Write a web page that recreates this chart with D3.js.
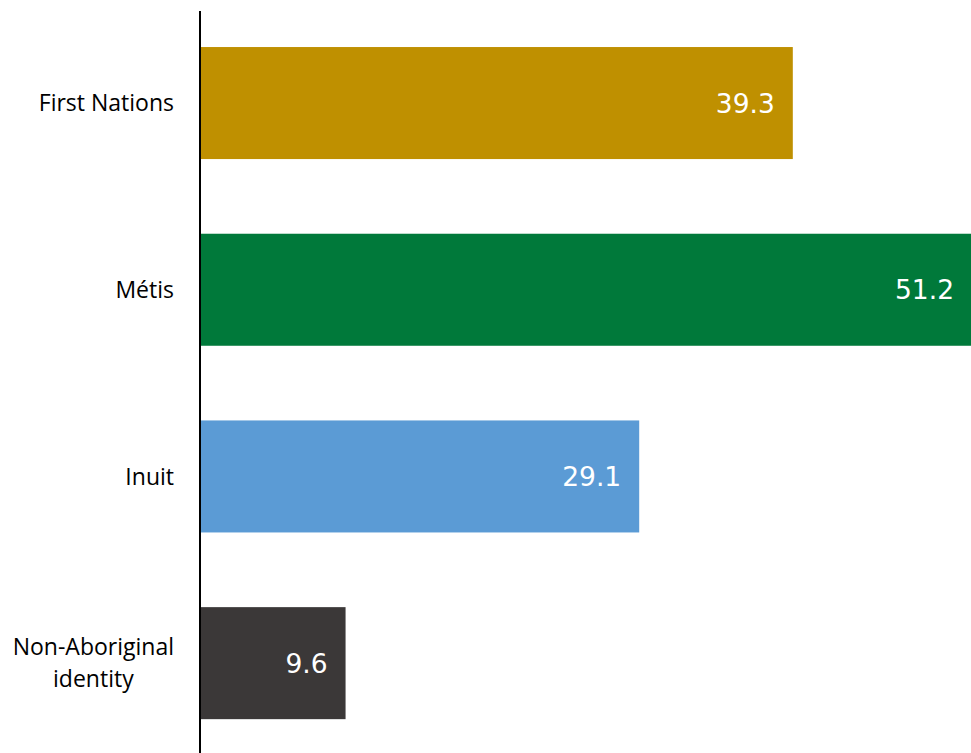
<!DOCTYPE html>
<html>
<head>
<meta charset="utf-8">
<script src="https://cdn.jsdelivr.net/npm/d3@7"></script>
<style>
  html, body { margin: 0; padding: 0; background: #fff; overflow: hidden; }
  svg { display: block; }
</style>
</head>
<body>
<svg id="chart" width="971" height="753"></svg>
<script>
// Identity groups, their values and bar colours
const categories = ["First Nations", "Métis", "Inuit", "Non-Aboriginal identity"];
const categoryLines = [["First Nations"], ["Métis"], ["Inuit"], ["Non-Aboriginal", "identity"]];
const values = [39.3, 51.2, 29.1, 9.6];
const colors = ["#BF9000", "#00793A", "#5B9BD5", "#3B3838"];

const W = 971, H = 753;
const axisX = 200;
const svg = d3.select("#chart");

const x = d3.scaleLinear().domain([0, 51.2]).range([axisX + 1, 972]);
const y = d3.scaleBand().domain(categories).range([9.7, 756.5]).paddingInner(0.4).paddingOuter(0.2);

const data = categories.map((c, i) => ({ cat: c, value: values[i], color: colors[i], lines: categoryLines[i] }));

// Bars
svg.append("g").selectAll("rect").data(data).join("rect")
  .attr("x", x(0))
  .attr("y", d => y(d.cat))
  .attr("width", d => x(d.value) - x(0))
  .attr("height", y.bandwidth())
  .attr("fill", d => d.color);

// Value labels inside bar ends
svg.append("g").selectAll("text").data(data).join("text")
  .attr("x", d => x(d.value) - 18)
  .attr("y", d => y(d.cat) + y.bandwidth() / 2)
  .attr("dy", "0.36em")
  .attr("text-anchor", "end")
  .attr("fill", "#fff")
  .style("font-family", "'DejaVu Sans', Verdana, sans-serif")
  .style("font-size", "26.5px")
  .text(d => d.value.toFixed(1));

// Category labels: right-aligned block, lines centred within the block
const labelRight = 174;
const lineH = 32;
const labels = svg.append("g")
  .style("font-family", "'Open Sans', sans-serif")
  .style("font-size", "23px")
  .attr("fill", "#000");

data.forEach(d => {
  const g = labels.append("g");
  const cy = y(d.cat) + y.bandwidth() / 2;
  const n = d.lines.length;
  const texts = d.lines.map((ln, i) => g.append("text")
    .attr("y", cy + (i - (n - 1) / 2) * lineH)
    .attr("dy", "0.35em")
    .attr("text-anchor", "middle")
    .text(ln));
  const maxW = d3.max(texts, t => t.node().getComputedTextLength());
  texts.forEach(t => t.attr("x", labelRight - maxW / 2));
});

// Vertical category axis line
svg.append("line")
  .attr("x1", axisX).attr("x2", axisX)
  .attr("y1", 11).attr("y2", H)
  .attr("stroke", "#000")
  .attr("stroke-width", 2);
</script>
</body>
</html>
